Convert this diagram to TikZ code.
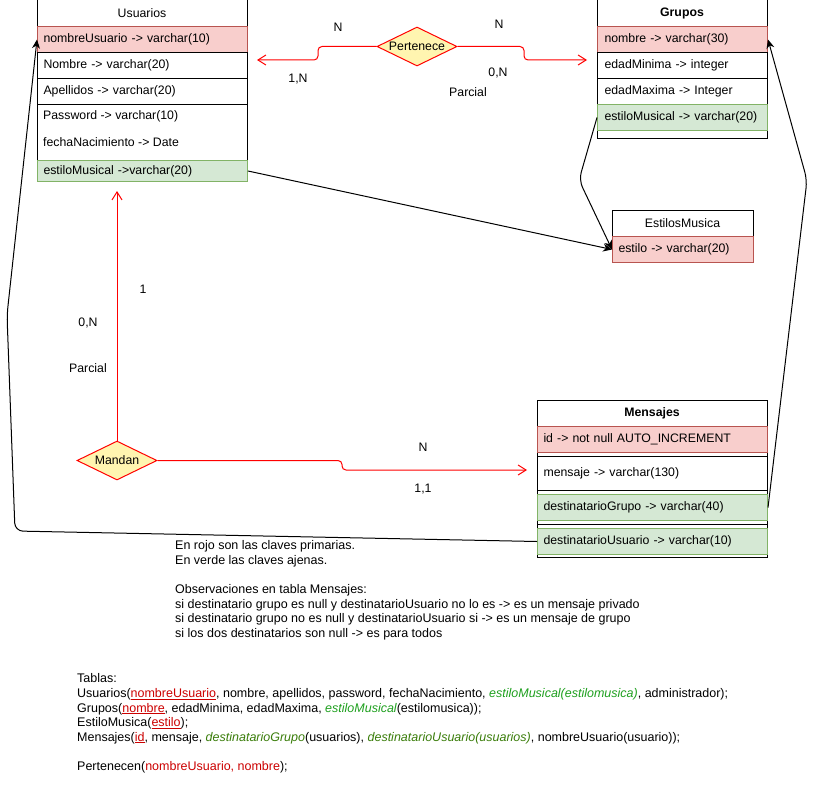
\documentclass[tikz,border=0pt]{standalone}
\usepackage{fontspec}
\setmainfont{Liberation Sans}
\usetikzlibrary{shapes.geometric,arrows.meta}
\definecolor{pkfill}{HTML}{F8CECC}
\definecolor{pkline}{HTML}{B85450}
\definecolor{fkfill}{HTML}{D5E8D4}
\definecolor{fkline}{HTML}{82B366}
\definecolor{relfill}{HTML}{FFF5B0}
\definecolor{relred}{HTML}{FF0000}
\definecolor{keyred}{HTML}{CC0000}
\definecolor{fkgreen}{HTML}{1FA01F}
\definecolor{fkdark}{HTML}{3A7D0A}
\newcommand{\pkey}[1]{\textcolor{keyred}{\underline{#1}}}
\newcommand{\fkey}[1]{\textcolor{fkgreen}{\itshape #1}}
\newcommand{\fkeyd}[1]{\textcolor{fkdark}{\itshape #1}}
\begin{document}
\begin{tikzpicture}[x=1pt,y=-1pt,font=\fontsize{12.3}{14.6}\selectfont,
  box/.style={draw=black,line width=1pt,fill=white},
  cell/.style={draw=black,line width=1pt,fill=white,rectangle,anchor=north west,inner xsep=6pt,inner ysep=0pt,align=left,minimum height=26pt},
  pk/.style={cell,fill=pkfill,draw=pkline},
  fk/.style={cell,fill=fkfill,draw=fkline},
  ttl/.style={anchor=center,inner sep=0pt},
  bttl/.style={ttl,font=\fontsize{12.3}{14.6}\selectfont\bfseries},
  rel/.style={diamond,draw=relred,fill=relfill,line width=1pt,minimum width=80pt,minimum height=39pt,inner sep=0pt,aspect=2},
  relline/.style={draw=relred,line width=1pt,rounded corners=4pt,-{Straight Barb[length=8pt,width=10pt]}},
  refline/.style={draw=black,line width=1pt,rounded corners=8pt,-{Stealth[length=9pt,width=8pt]}},
  lbl/.style={inner sep=0pt},
  note/.style={anchor=base west,inner sep=0pt,font=\fontsize{12.5}{14.6}\selectfont}]
\useasboundingbox[fill=white] (0,0) rectangle (816,792);

% Usuarios
\draw[box] (37,0) rectangle (247,181);
\node[ttl] (ut) at (142,13) {Usuarios};
\node[pk,text width=198pt] (u1) at (37,26) {nombreUsuario -> varchar(10)};
\node[cell,text width=198pt] (u2) at (37,52) {Nombre -> varchar(20)};
\node[cell,text width=198pt] (u3) at (37,78) {Apellidos -> varchar(20)};
\node[cell,text width=198pt,minimum height=56pt] (u4) at (37,104) {};
\node[lbl,anchor=west] (u4a) at (43,116) {Password -> varchar(10)};
\node[lbl,anchor=west] (u4b) at (43,142) {fechaNacimiento -> Date};
\node[fk,text width=198pt,minimum height=21pt] (u5) at (37,160) {estiloMusical ->varchar(20)};

% Grupos
\draw[box] (597,0) rectangle (767,138);
\node[bttl] (gt) at (682,13) {Grupos};
\node[pk,text width=156pt,inner xsep=7pt] (g1) at (597,26) {nombre -> varchar(30)};
\node[cell,text width=156pt,inner xsep=7pt] (g2) at (597,52) {edadMinima -> integer};
\node[cell,text width=156pt,inner xsep=7pt] (g3) at (597,78) {edadMaxima -> Integer};
\node[fk,text width=156pt,inner xsep=7pt] (g4) at (597,104) {estiloMusical -> varchar(20)};

% EstilosMusica
\draw[box] (612,210) rectangle (753,262);
\node[ttl] (et) at (682.5,223) {EstilosMusica};
\node[pk,text width=129pt] (e1) at (612,236) {estilo -> varchar(20)};

% Mensajes
\draw[box] (537,400) rectangle (767,557);
\node[bttl] (mt) at (652,413) {Mensajes};
\node[pk,text width=218pt] (m1) at (537,426) {id -> not null AUTO\_INCREMENT};
\node[cell,text width=218pt,minimum height=34pt] (m2) at (537,456) {mensaje -> varchar(130)};
\node[fk,text width=218pt] (m3) at (537,494) {destinatarioGrupo -> varchar(40)};
\draw[line width=1pt] (537,524) -- (767,524);
\node[fk,text width=218pt] (m4) at (537,528) {destinatarioUsuario -> varchar(10)};

% relationships
\node[rel] (pert) at (417,46.5) {Pertenece};
\coordinate (pu) at (257,60);
\coordinate (pg) at (587,60);
\draw[relline] (pert.west) -- (318,46.5) -- (318,60) -- (pu);
\draw[relline] (pert.east) -- (524,46.5) -- (524,60) -- (pg);

\node[rel] (mand) at (117,460.5) {Mandan};
\coordinate (mu) at (117,191);
\coordinate (mm) at (527,470);
\draw[relline] (mand.north) -- (mu);
\draw[relline] (mand.east) -- (342,460.5) -- (342,470) -- (mm);

% foreign key references
\draw[refline] (u5.east) -- (e1.west);
\draw[refline] (g4.west) -- (579,180) -- (e1.west);
\draw[refline] (m3.east) -- (807,180) -- (g1.east);
\draw[refline] (m4.west) -- (15,531) -- (7,315) -- (u1.west);

% cardinality labels
\node[lbl] (l1) at (338,27) {N};
\node[lbl] (l2) at (298,79) {1,N};
\node[lbl] (l3) at (499,24) {N};
\node[lbl] (l4) at (498,73) {0,N};
\node[lbl] (l5) at (468,92) {Parcial};
\node[lbl] (l6) at (143,289) {1};
\node[lbl] (l7) at (88,323) {0,N};
\node[lbl] (l8) at (88,368) {Parcial};
\node[lbl] (l9) at (423,447) {N};
\node[lbl] (l10) at (423,489) {1,1};

% notes
\node[note] (n1) at (175,549.5) {En rojo son las claves primarias.};
\node[note] (n2) at (175,564.5) {En verde las claves ajenas.};
\node[note] (n3) at (175,593.5) {Observaciones en tabla Mensajes:};
\node[note] (n4) at (175,608.5) {si destinatario grupo es null y destinatarioUsuario no lo es -> es un mensaje privado};
\node[note] (n5) at (175,622.5) {si destinatario grupo no es null y destinatarioUsuario si -> es un mensaje de grupo};
\node[note] (n6) at (175,637.5) {si los dos destinatarios son null -> es para todos};

\node[note] (b1) at (77,682.5) {Tablas:};
\node[note] (b2) at (77,697.5) {Usuarios(\pkey{nombreUsuario}, nombre, apellidos, password, fechaNacimiento, \fkey{estiloMusical(estilomusica)}, administrador);};
\node[note] (b3) at (77,712) {Grupos(\pkey{nombre}, edadMinima, edadMaxima, \fkey{estiloMusical}(estilomusica));};
\node[note] (b4) at (77,726.5) {EstiloMusica(\pkey{estilo});};
\node[note] (b5) at (77,741) {Mensajes(\pkey{id}, mensaje, \fkeyd{destinatarioGrupo}(usuarios), \fkeyd{destinatarioUsuario(usuarios)}, nombreUsuario(usuario));};
\node[note] (b6) at (77,770) {Pertenecen(\textcolor{keyred}{nombreUsuario, nombre});};
\end{tikzpicture}
\end{document}
